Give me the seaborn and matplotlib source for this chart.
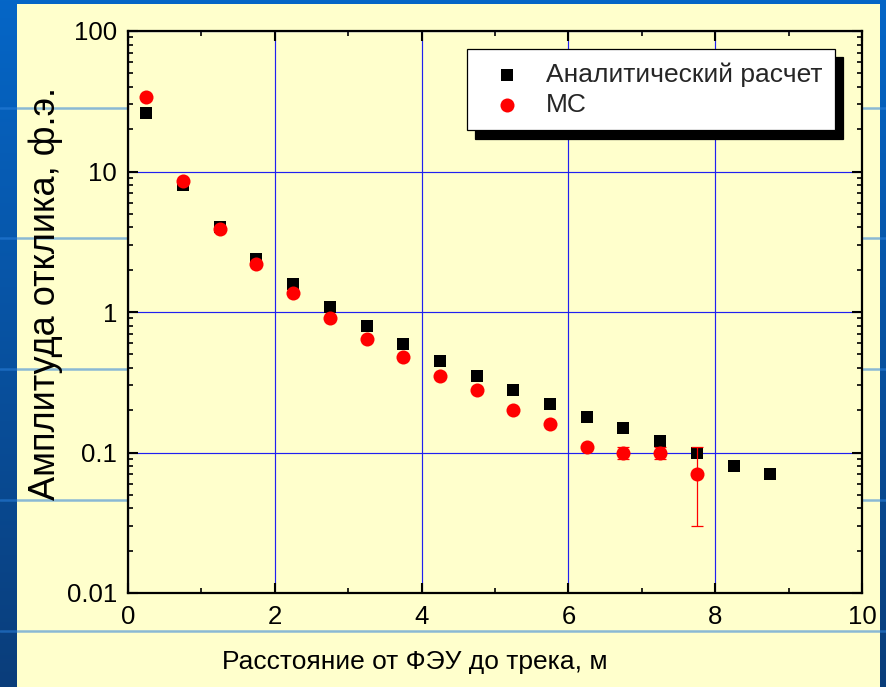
import numpy as np
import pandas as pd
import matplotlib
matplotlib.use("Agg")
import matplotlib.pyplot as plt
from matplotlib.patches import Rectangle
from matplotlib.ticker import FixedLocator, LogLocator, FuncFormatter, NullFormatter
import seaborn as sns

# Distance from the PMT to the track, m
distance = [0.25, 0.75, 1.25, 1.75, 2.25, 2.75, 3.25, 3.75, 4.25,
            4.75, 5.25, 5.75, 6.25, 6.75, 7.25, 7.75, 8.25, 8.75]
# Analytic calculation, photoelectrons
analytic = [26, 8.0, 4.0, 2.4, 1.58, 1.09, 0.79, 0.59, 0.45,
            0.35, 0.28, 0.22, 0.18, 0.15, 0.12, 0.10, 0.080, 0.070]
# Monte Carlo simulation (first 16 distances) and its errors
mc_distance = distance[:16]
mc_value = [34, 8.5, 3.9, 2.2, 1.36, 0.91, 0.64, 0.48, 0.35,
            0.28, 0.20, 0.16, 0.11, 0.10, 0.10, 0.07]
mc_error = [0, 0, 0, 0, 0, 0, 0, 0, 0,
            0, 0, 0, 0, 0.01, 0.01, 0.04]

series_names = ["Аналитический расчет", "MC"]
x_ticks = [0, 2, 4, 6, 8, 10]
y_ticks = [0.01, 0.1, 1, 10, 100]

W, H = 887, 687
sns.set_theme(style="white")
plt.rcParams["font.family"] = ["Liberation Sans", "DejaVu Sans"]

fig = plt.figure(figsize=(W / 100, H / 100), dpi=100)

# slide background: blue gradient with faint stripes, yellow panel on top
bg = fig.add_axes([0, 0, 1, 1], zorder=-10)
grad = np.linspace(0, 1, 256)[:, None]
cols = np.array([0.02, 0.40, 0.78])[None, None, :] * (1 - grad[..., None]) + \
       np.array([0.04, 0.24, 0.48])[None, None, :] * grad[..., None]
bg.imshow(cols, extent=[0, W, H, 0], aspect="auto")
for yy in [108, 238, 369, 500, 631]:
    bg.plot([0, W], [yy, yy], color="#2a80dc", lw=1.8, alpha=0.55)
bg.add_patch(Rectangle((17, 4), 863, H, facecolor="#ffffcc", edgecolor="none"))
bg.set_xlim(0, W)
bg.set_ylim(H, 0)
bg.axis("off")

left, right, top, bottom = 128, 862, 31, 593
ax = fig.add_axes([left / W, 1 - bottom / H, (right - left) / W, (bottom - top) / H])
ax.set_facecolor("#ffffcc")

df_a = pd.DataFrame({"x": distance, "y": analytic})
df_m = pd.DataFrame({"x": mc_distance, "y": mc_value, "err": mc_error})

sns.scatterplot(data=df_a, x="x", y="y", marker="s", s=74, color="black",
                linewidth=0, label=series_names[0], ax=ax, zorder=3)
ax.errorbar(df_m["x"], df_m["y"], yerr=df_m["err"], fmt="none",
            ecolor="red", elinewidth=0.9, capsize=4, capthick=0.9, zorder=4)
sns.scatterplot(data=df_m, x="x", y="y", marker="o", s=102, color="red",
                linewidth=0, label=series_names[1], ax=ax, zorder=5)

ax.set_yscale("log")
ax.set_xlim(0, 10)
ax.set_ylim(0.01, 100)

ax.xaxis.set_major_locator(FixedLocator(x_ticks))
ax.xaxis.set_minor_locator(FixedLocator([1, 3, 5, 7, 9]))
ax.yaxis.set_major_locator(FixedLocator(y_ticks))
ax.yaxis.set_minor_locator(LogLocator(base=10, subs=np.arange(2, 10)))
ax.yaxis.set_minor_formatter(NullFormatter())
ax.yaxis.set_major_formatter(FuncFormatter(lambda v, p: f"{v:g}"))

ax.grid(True, which="major", color="#2020f0", lw=0.85)
ax.set_axisbelow(True)
for sp in ax.spines.values():
    sp.set_color("black")
    sp.set_linewidth(1.6)
ax.tick_params(which="both", direction="in", top=True, right=True,
               bottom=True, left=True, colors="black")
ax.tick_params(which="major", length=7.2, width=1.5, labelsize=18.5)
ax.tick_params(axis="y", which="major", pad=8)
ax.tick_params(axis="x", which="major", pad=9)
ax.tick_params(which="minor", length=3.8, width=1.2)

ax.set_xlabel("Расстояние от ФЭУ до трека, м", fontsize=19, color="black")
ax.xaxis.set_label_coords((415 - left) / (right - left), -(662 - bottom) / (bottom - top))
ax.xaxis.label.set_va("center")
ax.set_ylabel("Амплитуда отклика, ф.э.", fontsize=26, color="black")
ax.yaxis.set_label_coords((46 - left) / (right - left), (bottom - 294) / (bottom - top))
ax.yaxis.label.set_va("center")

handles, labels = ax.get_legend_handles_labels()
leg = ax.legend(handles, labels, loc="upper left",
                bbox_to_anchor=(467 / W, 1 - 49 / H), bbox_transform=fig.transFigure,
                borderaxespad=0, fontsize=19, frameon=True, fancybox=False,
                framealpha=1, edgecolor="black", facecolor="white",
                borderpad=0.5, handlelength=2.0, handletextpad=0.48,
                labelspacing=0.25,
                shadow={"ox": 5.8, "oy": -5.8, "facecolor": "black",
                        "edgecolor": "black", "alpha": 1})
leg.get_frame().set_linewidth(0.9)

fig.savefig("out.png", dpi=100)
